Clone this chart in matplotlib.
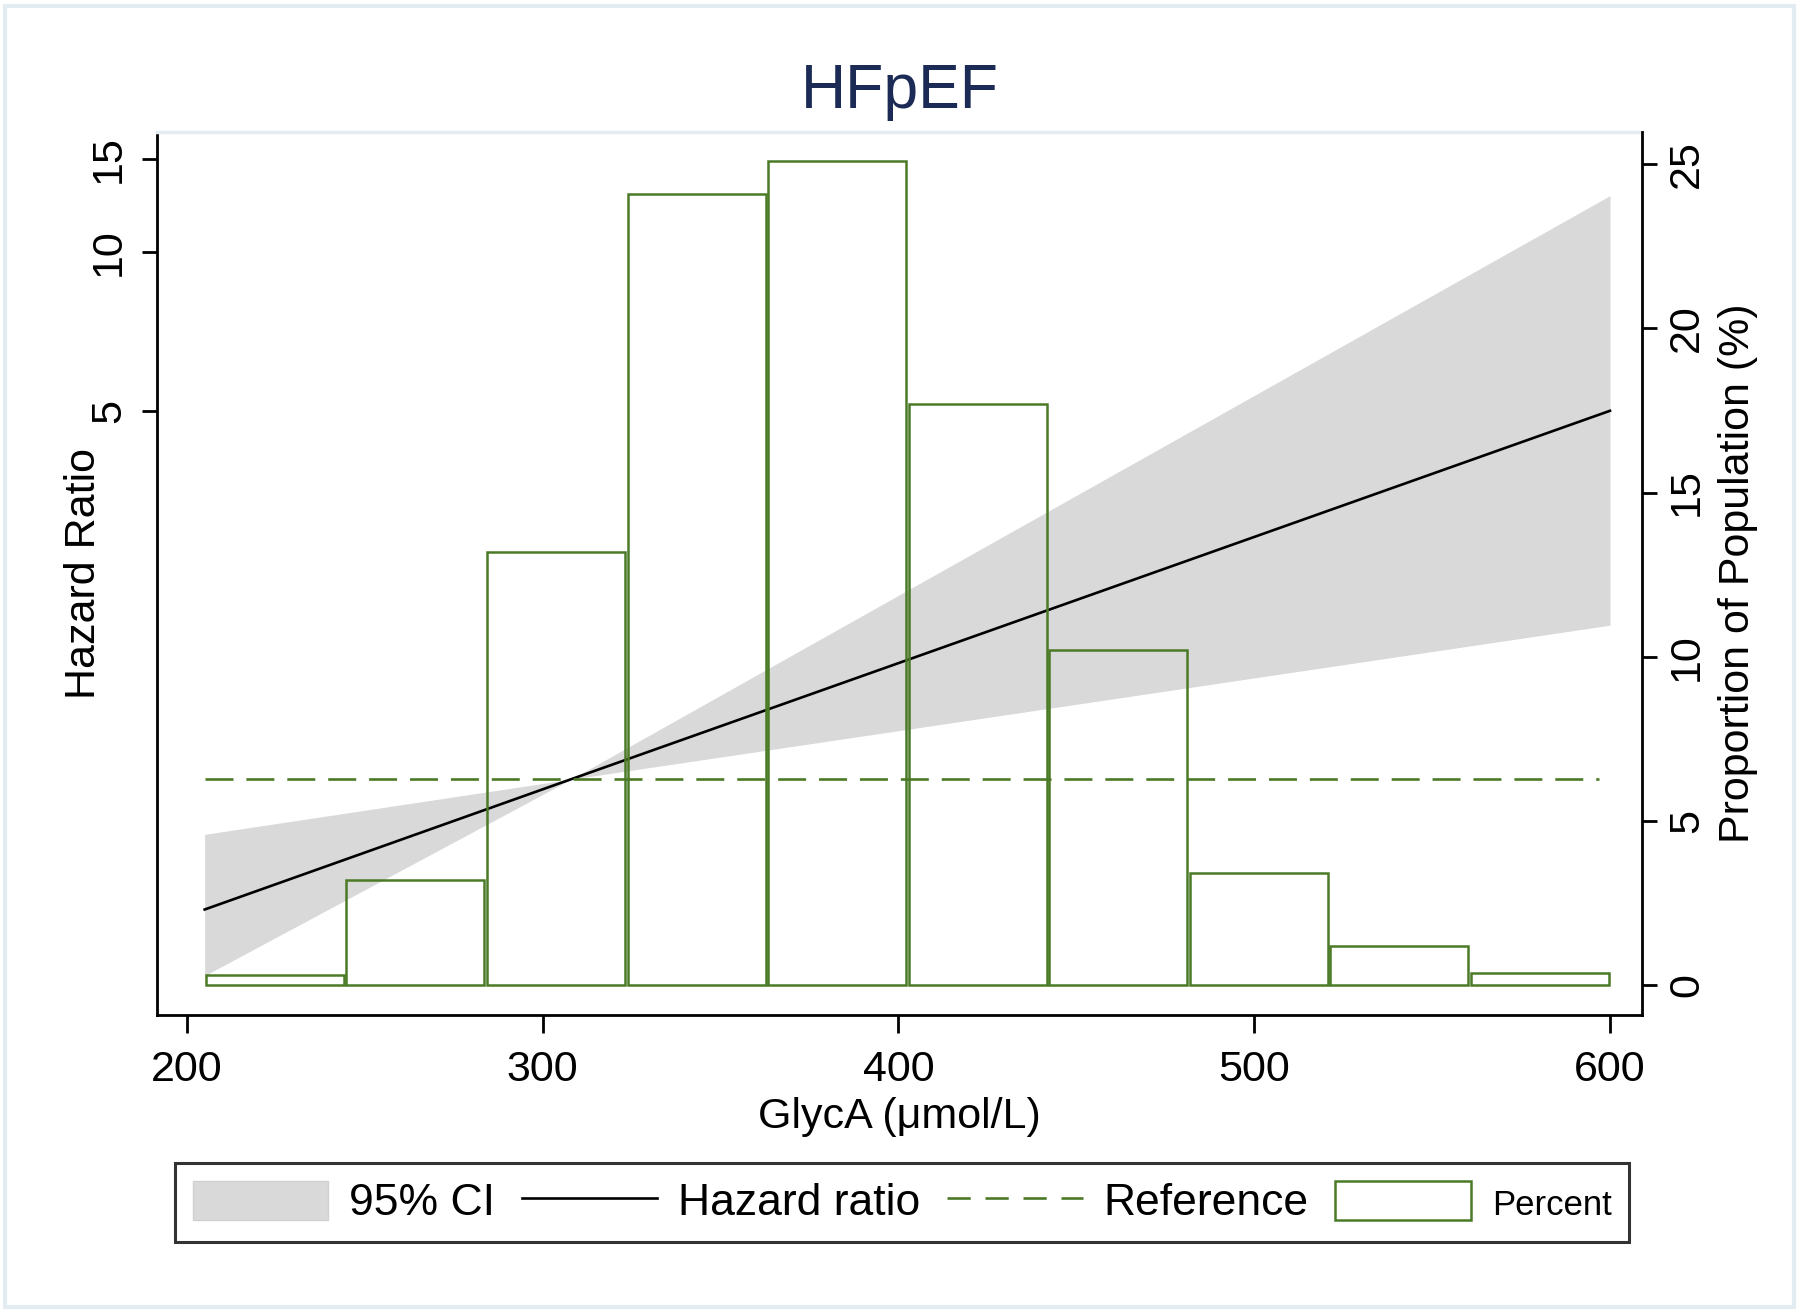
import matplotlib
matplotlib.use("Agg")
import matplotlib.pyplot as plt
from matplotlib.patches import Patch, Rectangle
from matplotlib.lines import Line2D

plt.rcParams['font.family'] = ['Liberation Sans', 'DejaVu Sans']

# hazard ratio curve (log-linear) and its 95% CI
glyca = [205, 308, 600]
hazard = [0.566, 1.0, 5.0]
ci_low = [0.424, 1.0, 1.96]
ci_high = [0.786, 1.0, 12.8]
ref_hr = 1.0

# histogram of GlycA (% of population per bin)
bin_left = [205.0, 244.5, 284.0, 323.5, 363.0, 402.5, 442.0, 481.5, 521.0, 560.5]
bin_width = 39.5
percent = [0.3, 3.2, 13.2, 24.1, 25.1, 17.7, 10.2, 3.4, 1.2, 0.35]

hr_ticks = [5, 10, 15]
pct_ticks = [0, 5, 10, 15, 20, 25]
x_ticks = [200, 300, 400, 500, 600]

green = '#4b7a26'
gray = '#d9d9d9'
navy = '#1b2b56'
frame_blue = '#e3edf1'

fig = plt.figure(figsize=(18, 13.12), dpi=100)
ax = fig.add_axes([157 / 1800, 1 - 1015 / 1312, 1485 / 1800, 883 / 1312])
ax2 = ax.twinx()

# CI band + hazard line + reference line on log axis
ax.fill_between(glyca, ci_low, ci_high, color=gray, linewidth=0, zorder=1)
ax.plot(glyca, hazard, color='black', lw=1.9, zorder=2)
ax.plot([glyca[0], glyca[-1] - 3], [ref_hr, ref_hr], color=green, lw=1.9,
        linestyle=(0, (10.6, 4.9)), zorder=2)
ax.set_yscale('log')
ax.set_ylim(0.357, 16.9)
ax.set_xlim(191.6, 609.0)
ax.set_yticks(hr_ticks)
ax.set_yticklabels([str(t) for t in hr_ticks], rotation=90, va='center')
ax.yaxis.set_minor_locator(matplotlib.ticker.NullLocator())
ax.set_xticks(x_ticks)
ax.set_xticklabels([str(t) for t in x_ticks])

# histogram bars, no fill, on top
ax2.bar([b + 0.35 for b in bin_left], percent, width=bin_width - 0.7, align='edge',
        facecolor='none', edgecolor=green, linewidth=1.8, zorder=3)
ax2.set_ylim(-0.914, 25.98)
ax2.set_yticks(pct_ticks)
ax2.set_yticklabels([str(t) for t in pct_ticks], rotation=90, va='center')

for a in (ax, ax2):
    for s in a.spines.values():
        s.set_linewidth(2.0)
        s.set_color('black')
ax.spines['top'].set_color(frame_blue)
ax.spines['top'].set_linewidth(2.5)
ax2.spines['top'].set_visible(False)
ax.spines['right'].set_visible(False)
ax2.spines['left'].set_visible(False)
ax2.spines['bottom'].set_visible(False)

ax.tick_params(axis='y', which='both', length=11, width=2.0, labelsize=31, pad=9)
ax.tick_params(axis='x', length=13, width=2.0, labelsize=31, pad=12)
ax2.tick_params(axis='y', length=11, width=2.0, labelsize=31, pad=7)

ax.set_xlabel('GlycA (\u03bcmol/L)', fontsize=31, labelpad=5)
ax.set_ylabel('Hazard Ratio', fontsize=31)
ax.yaxis.set_label_coords(-0.036, 0.5)
ax2.set_ylabel('Proportion of Population (%)', fontsize=31)
ax2.yaxis.set_label_coords(1.051, 0.5)

ax.set_title('HFpEF', fontsize=45, color=navy, pad=17)

handles = [
    Patch(facecolor=gray, edgecolor='#d0d0d0'),
    Line2D([], [], color='black', lw=1.9),
    Line2D([], [], color=green, lw=1.9, linestyle=(0, (8.8, 5.6))),
    Patch(facecolor='white', edgecolor=green, linewidth=1.8),
]
labels = ['95% CI', 'Hazard ratio', 'Reference', 'Percent']
leg = fig.legend(handles, labels, loc='center', bbox_to_anchor=(902 / 1800, 1 - 1202.5 / 1312),
                 ncol=4, fontsize=32, handlelength=3.05, handleheight=0.97,
                 handletextpad=0.47, columnspacing=0.6, borderpad=0.4,
                 frameon=True, fancybox=False, edgecolor='black')
leg.get_frame().set_linewidth(2.2)
leg.get_texts()[3].set_fontsize(25)

# light outer graph-region frame
fig.patches.append(Rectangle((5 / 1800, 5 / 1312), 1789 / 1800, 1301 / 1312,
                             transform=fig.transFigure, fill=False,
                             edgecolor=frame_blue, linewidth=3))

fig.savefig('out.png', dpi=100)
